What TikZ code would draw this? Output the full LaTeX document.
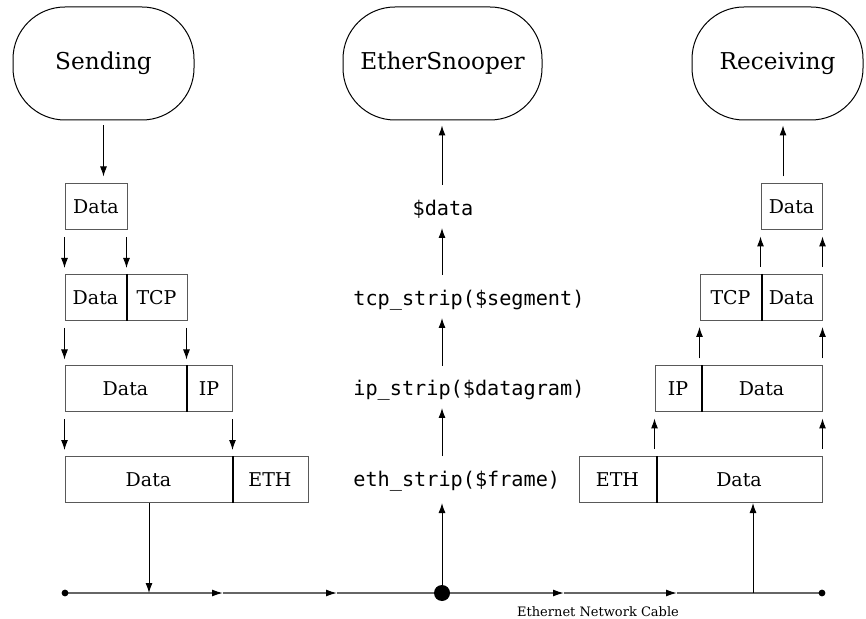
\documentclass[tikz,border=0pt]{standalone}
\usepackage{fontspec}
\setmainfont{DejaVu Serif}
\setmonofont{DejaVu Sans Mono}
\usetikzlibrary{arrows.meta}
\begin{document}
\begin{tikzpicture}[x=0.5pt,y=-0.5pt,
  term/.style={draw, line width=0.5pt, rounded corners=26pt, minimum width=#1, minimum height=56.5pt, inner sep=0pt, font=\fontsize{11.6}{14}\selectfont},
  cell/.style={draw=black!65, line width=0.5pt, minimum width=#1, minimum height=23pt, inner sep=0pt, font=\fontsize{9.5}{11}\selectfont},
  div/.style={line width=1pt, black},
  arr/.style={-{Latex[length=5pt,width=3.5pt]}, line width=0.5pt},
  gap/.style={shorten <=3.5pt, shorten >=3pt},
  ms/.style={font=\ttfamily\fontsize{10.1}{12}\selectfont, inner sep=0pt},
  cable/.style={line width=0.7pt, black!60},
  cablearr/.style={cable, -{Latex[length=5.5pt,width=3.5pt,black]}},
]
\useasboundingbox (0,0) rectangle (866,619);

% terminals
\node[term=90.5pt] (send) at (103.5,63.5) {Sending};
\node[term=99.5pt] (snoop) at (442.5,63.5) {EtherSnooper};
\node[term=85.5pt] (recv) at (777.5,63.5) {Receiving};

% left stack
\node[cell=31pt] (l1) at (96,207) {Data};
\node[cell=30.5pt] (l2d) at (95.5,297.5) {Data};
\node[cell=30.5pt] (l2t) at (156.5,297.5) {TCP};
\node[cell=60.5pt] (l3d) at (125.5,389) {Data};
\node[cell=23pt] (l3i) at (209,389) {IP};
\node[cell=83.5pt] (l4d) at (148.5,479.5) {Data};
\node[cell=38pt] (l4e) at (270,479.5) {ETH};
\draw[div] (l2d.north east) -- (l2d.south east);
\draw[div] (l3d.north east) -- (l3d.south east);
\draw[div] (l4d.north east) -- (l4d.south east);

% right stack
\node[cell=30.5pt] (r1) at (791.5,207) {Data};
\node[cell=30.5pt] (r2t) at (730.5,297.5) {TCP};
\node[cell=30.5pt] (r2d) at (791.5,297.5) {Data};
\node[cell=23pt] (r3i) at (678,389) {IP};
\node[cell=60.5pt] (r3d) at (761.5,389) {Data};
\node[cell=38.5pt] (r4e) at (617.5,479.5) {ETH};
\node[cell=83pt] (r4d) at (739,479.5) {Data};
\draw[div] (r2t.north east) -- (r2t.south east);
\draw[div] (r3i.north east) -- (r3i.south east);
\draw[div] (r4e.north east) -- (r4e.south east);

% middle texts
\node[ms] (sdata) at (443,209) {\$data};
\node[ms, anchor=west] (tcp) at (353,300) {tcp\_strip(\$segment)};
\node[ms, anchor=west] (ip) at (353,390) {ip\_strip(\$datagram)};
\node[ms, anchor=west] (eth) at (353,481) {eth\_strip(\$frame)};

% cable
\coordinate (c0) at (65,593);
\coordinate (cL) at (149,593);
\coordinate (m1) at (223,593);
\coordinate (m2) at (337,593);
\coordinate (m3) at (564,593);
\coordinate (m4) at (677,593);
\coordinate (cR) at (753,593);
\coordinate (c1) at (822,593);
\node[circle, fill, inner sep=0pt, minimum size=8pt] (tap) at (442,593) {};
\draw[cablearr] (c0) -- (m1);
\draw[cablearr] (m1) -- (m2);
\draw[cable] (m2) -- (tap);
\draw[cablearr] (tap) -- (m3);
\draw[cablearr] (m3) -- (m4);
\draw[cable] (m4) -- (c1);
\fill (c0) circle (1.7pt);
\fill (c1) circle (1.7pt);
\node[font=\fontsize{6.5}{8}\selectfont] (lbl) at (598,612) {Ethernet Network Cable};

% sending arrows
\draw[arr, shorten <=2.5pt, shorten >=3.5pt] (send.south) -- (send.south |- l1.north);
\draw[arr, gap] (l2d.north west |- l1.south) -- (l2d.north west);
\draw[arr, gap] (l2d.north east |- l1.south) -- (l2d.north east);
\draw[arr, gap] (l3d.north west |- l2d.south) -- (l3d.north west);
\draw[arr, gap] (l3d.north east |- l2d.south) -- (l3d.north east);
\draw[arr, gap] (l4d.north west |- l3d.south) -- (l4d.north west);
\draw[arr, gap] (l4d.north east |- l3d.south) -- (l4d.north east);
\draw[arr] (cL |- l4d.south) -- (cL);

% snooper arrows
\draw[arr] (tap) -- ([yshift=-11pt]tap |- eth.center);
\draw[arr] ([yshift=12.5pt]tap |- eth.center) -- ([yshift=-9pt]tap |- ip.center);
\draw[arr] ([yshift=12pt]tap |- ip.center) -- ([yshift=-9pt]tap |- tcp.center);
\draw[arr] ([yshift=12.5pt]tap |- tcp.center) -- ([yshift=-9.5pt]tap |- sdata.center);
\draw[arr, shorten >=2.5pt] ([yshift=12pt]tap |- sdata.center) -- (tap |- snoop.south);

% receiving arrows
\draw[arr] (cR) -- (cR |- r4d.south);
\draw[arr, gap] (r3i.south west |- r4e.north) -- (r3i.south west);
\draw[arr, gap] (r3d.south east |- r4d.north) -- (r3d.south east);
\draw[arr, gap] (r2t.south west |- r3i.north) -- (r2t.south west);
\draw[arr, gap] (r2d.south east |- r3d.north) -- (r2d.south east);
\draw[arr, gap] (r1.south west |- r2t.north) -- (r1.south west);
\draw[arr, gap] (r1.south east |- r2d.north) -- (r1.south east);
\draw[arr, shorten <=3.5pt, shorten >=2.5pt] ([xshift=-4.25pt]r1.north) -- ([xshift=-4.25pt]r1.north |- recv.south);
\end{tikzpicture}
\end{document}
